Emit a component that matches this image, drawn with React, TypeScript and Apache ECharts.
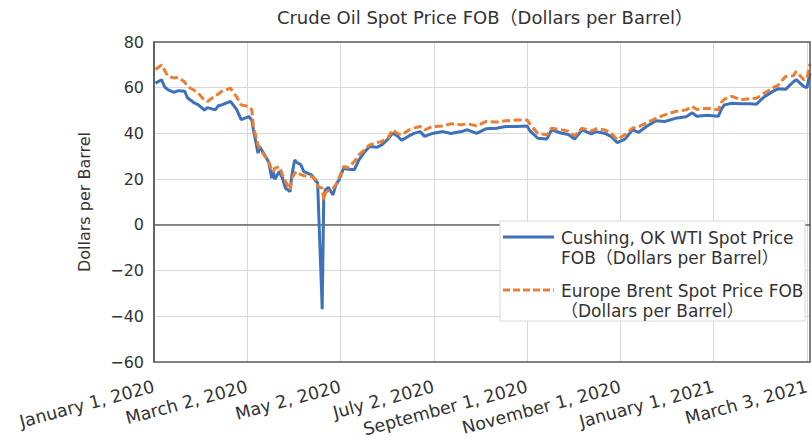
import React, { useEffect, useRef } from "react";
import * as echarts from "echarts";

const dates = [
  "2020-01-02", "2020-01-06", "2020-01-08", "2020-01-10", "2020-01-14", "2020-01-17", "2020-01-21", "2020-01-23",
  "2020-01-27", "2020-01-30", "2020-02-03", "2020-02-05", "2020-02-10", "2020-02-12", "2020-02-14", "2020-02-20",
  "2020-02-24", "2020-02-27", "2020-03-03", "2020-03-05", "2020-03-06", "2020-03-09", "2020-03-10", "2020-03-12",
  "2020-03-16", "2020-03-18", "2020-03-19", "2020-03-20", "2020-03-23", "2020-03-25", "2020-03-27", "2020-03-30",
  "2020-03-31", "2020-04-02", "2020-04-03", "2020-04-06", "2020-04-08", "2020-04-13", "2020-04-16", "2020-04-17",
  "2020-04-20", "2020-04-21", "2020-04-22", "2020-04-24", "2020-04-27", "2020-04-29", "2020-05-01", "2020-05-04",
  "2020-05-07", "2020-05-11", "2020-05-14", "2020-05-18", "2020-05-21", "2020-05-26", "2020-05-29", "2020-06-02",
  "2020-06-05", "2020-06-08", "2020-06-11", "2020-06-16", "2020-06-19", "2020-06-23", "2020-06-26", "2020-07-01",
  "2020-07-08", "2020-07-13", "2020-07-20", "2020-07-24", "2020-07-30", "2020-08-05", "2020-08-12", "2020-08-18",
  "2020-08-25", "2020-09-01", "2020-09-03", "2020-09-08", "2020-09-14", "2020-09-17", "2020-09-23", "2020-09-28",
  "2020-10-02", "2020-10-07", "2020-10-13", "2020-10-16", "2020-10-22", "2020-10-26", "2020-10-30", "2020-11-04",
  "2020-11-09", "2020-11-13", "2020-11-18", "2020-11-24", "2020-11-30", "2020-12-07", "2020-12-14", "2020-12-18",
  "2020-12-21", "2020-12-28", "2021-01-04", "2021-01-06", "2021-01-08", "2021-01-13", "2021-01-19", "2021-01-25",
  "2021-01-29", "2021-02-03", "2021-02-09", "2021-02-12", "2021-02-17", "2021-02-22", "2021-02-24", "2021-03-01",
  "2021-03-03", "2021-03-05",
];

const wti = [
  62.0, 63.5, 60.3, 59.2, 58.0, 58.7, 58.5, 55.5,
  53.5, 52.5, 50.2, 51.3, 50.3, 52.1, 52.4, 54.0,
  50.5, 46.0, 47.4, 45.8, 41.6, 31.4, 34.3, 32.1,
  27.5, 20.4, 23.3, 20.0, 23.3, 20.5, 16.0, 14.6,
  21.1, 28.4, 27.5, 26.3, 23.3, 21.9, 19.0, 18.5,
  -36.9, 12.0, 15.3, 16.4, 13.1, 17.5, 19.7, 24.8,
  24.3, 24.1, 28.4, 32.1, 34.3, 34.0, 35.0, 37.5,
  40.1, 39.0, 37.0, 39.0, 40.0, 40.8, 38.7, 40.0,
  40.8, 40.0, 40.8, 41.6, 40.0, 42.0, 42.3, 43.0,
  43.0, 43.3, 41.0, 37.9, 37.6, 41.6, 40.2, 39.5,
  37.5, 41.6, 39.8, 40.8, 40.0, 38.6, 36.0, 37.5,
  41.6, 40.5, 43.0, 45.5, 45.2, 46.6, 47.3, 49.0,
  47.5, 48.0, 47.5, 50.5, 52.5, 53.2, 53.0, 53.0,
  52.8, 56.0, 58.5, 59.5, 59.3, 62.5, 63.5, 60.5,
  60.0, 66.4,
];

const brent = [
  68.0, 70.0, 67.5, 65.0, 64.3, 64.5, 62.5, 60.5,
  59.0, 57.6, 54.5, 54.0, 56.5, 57.2, 58.3, 59.8,
  56.0, 52.5, 51.8, 50.3, 43.0, 35.0, 33.6, 31.5,
  27.7, 24.0, 23.3, 24.8, 25.5, 22.0, 19.0, 15.3,
  20.4, 22.5, 23.3, 22.0, 21.5, 21.1, 19.7, 17.0,
  16.0, 10.9, 14.0, 15.0, 16.0, 17.5, 20.4, 25.5,
  25.0, 27.7, 30.6, 33.0, 35.0, 36.0, 36.5, 38.0,
  41.6, 40.0, 39.4, 41.6, 42.3, 43.0, 41.5, 43.0,
  43.3, 44.2, 43.8, 44.2, 43.3, 45.2, 45.0, 45.5,
  45.9, 45.9, 44.0, 40.0, 39.4, 42.3, 41.6, 41.0,
  38.9, 42.3, 41.0, 42.0, 41.5, 40.1, 37.2, 39.5,
  42.3, 43.0, 44.5, 46.5, 48.1, 49.6, 50.3, 51.8,
  50.5, 51.0, 50.3, 53.5, 55.0, 56.2, 54.7, 55.2,
  55.4, 57.6, 60.0, 61.0, 64.9, 65.2, 67.1, 63.5,
  64.0, 70.5,
];

const seriesNames = [
  "Cushing, OK WTI Spot Price FOB（Dollars per Barrel）",
  "Europe Brent Spot Price FOB（Dollars per Barrel）",
];
const legendLabels = [
  "Cushing, OK WTI Spot Price\nFOB（Dollars per Barrel）",
  "Europe Brent Spot Price FOB\n（Dollars per Barrel）",
];
const titleText = "Crude Oil Spot Price FOB（Dollars per Barrel）";
const yAxisTitle = "Dollars per Barrel";

const MONTHS = [
  "January", "February", "March", "April", "May", "June",
  "July", "August", "September", "October", "November", "December",
];
const START = Date.UTC(2020, 0, 1);
const DAY = 86400000;
const dayOf = (s: string) => {
  const [y, m, d] = s.split("-").map(Number);
  return Math.round((Date.UTC(y, m - 1, d) - START) / DAY);
};
const labelOf = (v: number) => {
  const dt = new Date(START + Math.round(v) * DAY);
  return `${MONTHS[dt.getUTCMonth()]} ${dt.getUTCDate()}, ${dt.getUTCFullYear()}`;
};

const FONT = "'DejaVu Sans', 'Noto Sans CJK JP', sans-serif";
const TEXT = "#333333";
const BLUE = "#3D71BA";
const ORANGE = "#ED7D31";

export default function App() {
  const ref = useRef<HTMLDivElement>(null);
  useEffect(() => {
    if (!ref.current) return;
    const chart = echarts.init(ref.current, undefined, { renderer: "svg" });
    const wtiData = dates.map((d, i) => [dayOf(d), wti[i]]);
    const brentData = dates.map((d, i) => [dayOf(d), brent[i]]);
    chart.setOption({
      animation: false,
      backgroundColor: "#ffffff",
      textStyle: { fontFamily: FONT },
      title: {
        text: titleText,
        left: 480,
        top: 3,
        textAlign: "center",
        textStyle: { fontSize: 18, fontWeight: "normal", color: TEXT, fontFamily: FONT },
      },
      grid: {
        left: 154,
        right: 2,
        top: 42,
        bottom: 80,
        show: false,
        containLabel: false,
        outerBoundsMode: "none",
      },
      xAxis: {
        type: "value",
        min: 0,
        max: 429,
        interval: 61,
        axisLine: { show: true, lineStyle: { color: "#595959", width: 1.5 } },
        axisTick: { show: false },
        splitLine: { show: true, showMinLine: false, showMaxLine: false, lineStyle: { color: "#d9d9d9", width: 1 } },
        axisLabel: {
          formatter: (v: number) => labelOf(v),
          rotate: 15,
          margin: 24,
          fontSize: 17.5,
          color: TEXT,
          fontFamily: FONT,
          showMaxLabel: false,
          showMinLabel: true,
        },
      },
      yAxis: {
        type: "value",
        min: -60,
        max: 80,
        interval: 20,
        name: yAxisTitle,
        nameLocation: "middle",
        nameGap: 62,
        nameTextStyle: { fontSize: 16, color: TEXT, fontFamily: FONT },
        axisLine: { show: true, lineStyle: { color: "#595959", width: 1.5 } },
        axisTick: { show: false },
        splitLine: { show: true, showMinLine: false, showMaxLine: false, lineStyle: { color: "#d9d9d9", width: 1 } },
        axisLabel: {
          formatter: (v: number) => String(v).replace("-", "\u2212"),
          fontSize: 16,
          margin: 10,
          color: TEXT,
          fontFamily: FONT,
        },
      },
      series: [
        {
          name: seriesNames[0],
          type: "line",
          data: wtiData,
          showSymbol: false,
          symbol: "none",
          lineStyle: { color: BLUE, width: 3 },
          itemStyle: { color: BLUE },
          z: 3,
          markLine: {
            silent: true,
            symbol: "none",
            label: { show: false },
            lineStyle: { color: "#8c8c8c", type: "solid", width: 1.2 },
            data: [{ yAxis: 0 }],
            z: 1,
          },
        },
        {
          name: seriesNames[1],
          type: "line",
          data: brentData,
          showSymbol: false,
          symbol: "none",
          lineStyle: { color: ORANGE, width: 3, type: [8, 3.5] },
          itemStyle: { color: ORANGE },
          z: 4,
        },
      ],
      graphic: [
        {
          type: "rect",
          z: 50,
          silent: true,
          shape: { x: 154, y: 42, width: 656, height: 320 },
          style: { fill: "none", stroke: "#595959", lineWidth: 1.5 },
        },
        {
          type: "rect",
          z: 100,
          shape: { x: 500, y: 221, width: 305, height: 100 },
          style: { fill: "#ffffff", stroke: "#d9d9d9", lineWidth: 1 },
        },
        {
          type: "line",
          z: 101,
          shape: { x1: 503, y1: 237, x2: 554, y2: 237 },
          style: { stroke: BLUE, lineWidth: 3 },
        },
        {
          type: "text",
          z: 101,
          style: {
            text: legendLabels[0],
            x: 561,
            y: 228,
            font: `17px ${FONT}`,
            lineHeight: 20,
            fill: TEXT,
            verticalAlign: "top",
          },
        },
        {
          type: "line",
          z: 101,
          shape: { x1: 503, y1: 290, x2: 554, y2: 290 },
          style: { stroke: ORANGE, lineWidth: 3, lineDash: [7, 3] },
        },
        {
          type: "text",
          z: 101,
          style: {
            text: legendLabels[1],
            x: 561,
            y: 281,
            font: `17px ${FONT}`,
            lineHeight: 20,
            fill: TEXT,
            verticalAlign: "top",
          },
        },
      ],
    });
    return () => chart.dispose();
  }, []);
  return (
    <div
      ref={ref}
      style={{ position: "fixed", left: 0, top: 0, width: 812, height: 442 }}
    />
  );
}
